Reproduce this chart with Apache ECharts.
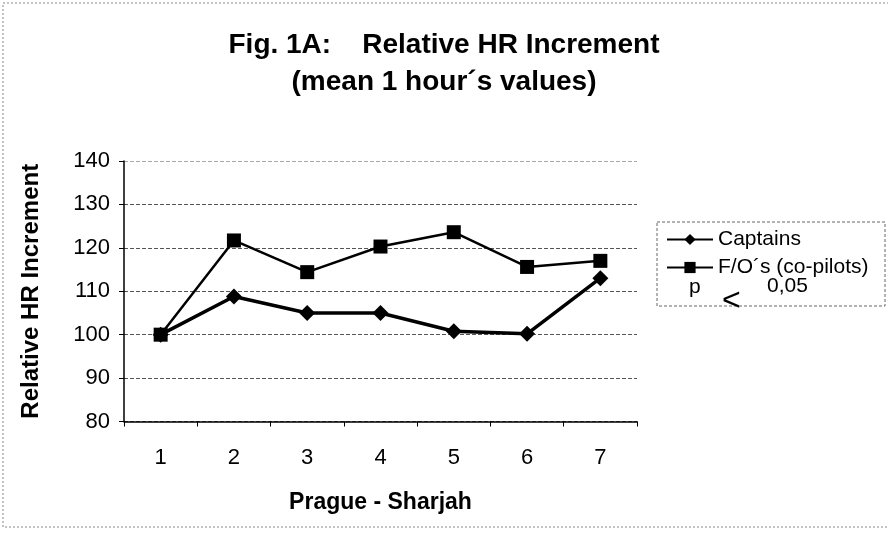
<!DOCTYPE html>
<html>
<head>
<meta charset="utf-8">
<script src="https://cdn.jsdelivr.net/npm/echarts@6/dist/echarts.min.js"></script>
<style>
html,body{margin:0;padding:0;background:#fff;}
#chart{width:888px;height:540px;}
</style>
</head>
<body>
<div id="chart"></div>
<script>
var categories = ['1', '2', '3', '4', '5', '6', '7'];
var captains = [100, 108.8, 105, 105, 100.8, 100.2, 113];
var foPilots = [100, 121.7, 114.4, 120.3, 123.6, 115.6, 117];
var seriesNames = ['Captains', 'F/O\u00b4s (co-pilots)'];
var yMin = 80, yMax = 140, yStep = 10;
var titleText = 'Fig. 1A:    Relative HR Increment\n(mean 1 hour\u00b4s values)';
var xTitle = 'Prague - Sharjah';
var yTitle = 'Relative HR Increment';
var noteParts = ['p', '<', '0,05'];

var FONT = '"Liberation Sans", Arial, sans-serif';
var chart = echarts.init(document.getElementById('chart'), null, {renderer: 'canvas'});
chart.setOption({
  backgroundColor: '#ffffff',
  animation: false,
  title: {
    text: titleText,
    left: 'center',
    top: 27,
    padding: [0, 0, 0, 14],
    textStyle: {fontFamily: FONT, fontSize: 28, fontWeight: 'bold', color: '#000', lineHeight: 37}
  },
  grid: {left: 124, right: 251, top: 161, bottom: 118.5, containLabel: false},
  xAxis: {
    type: 'category',
    data: categories,
    name: xTitle,
    nameLocation: 'middle',
    nameGap: 70,
    nameTextStyle: {fontFamily: FONT, fontSize: 23, fontWeight: 'bold', color: '#000'},
    axisLine: {lineStyle: {color: '#000', width: 1.5}},
    axisTick: {show: true, length: 5, lineStyle: {color: '#000'}},
    axisLabel: {fontFamily: FONT, fontSize: 22, color: '#000', margin: 25},
    splitLine: {show: false}
  },
  yAxis: {
    type: 'value',
    min: yMin, max: yMax, interval: yStep,
    name: yTitle,
    nameLocation: 'middle',
    nameGap: 81,
    nameRotate: 90,
    nameTextStyle: {fontFamily: FONT, fontSize: 24, fontWeight: 'bold', color: '#000'},
    axisLine: {show: true, lineStyle: {color: '#000', width: 1.5}},
    axisTick: {show: true, length: 5, lineStyle: {color: '#000'}},
    axisLabel: {fontFamily: FONT, fontSize: 22, color: '#000', margin: 14},
    splitLine: {show: true, lineStyle: {color: ['#555', '#555', '#555', '#555', '#555', '#555', '#aaa'], width: 1, type: [4, 2]}}
  },
  legend: {
    orient: 'vertical',
    left: 666,
    top: 229,
    itemWidth: 46,
    itemHeight: 14,
    itemGap: 7,
    padding: 0,
    data: seriesNames,
    textStyle: {fontFamily: FONT, fontSize: 21, color: '#000'}
  },
  series: [
    {
      name: seriesNames[0], type: 'line', data: captains,
      symbol: 'diamond', symbolSize: 16,
      itemStyle: {color: '#000'},
      lineStyle: {color: '#000', width: 3.5}
    },
    {
      name: seriesNames[1], type: 'line', data: foPilots,
      symbol: 'rect', symbolSize: 14,
      itemStyle: {color: '#000'},
      lineStyle: {color: '#000', width: 2.5}
    }
  ],
  graphic: [
    {type: 'rect', shape: {x: 3, y: 3, width: 900, height: 524}, silent: true,
     style: {fill: 'none', stroke: '#888', lineWidth: 1, lineDash: [2, 2]}},
    {type: 'rect', shape: {x: 657, y: 222, width: 228, height: 84}, silent: true,
     style: {fill: 'none', stroke: '#666', lineWidth: 1, lineDash: [3, 2]}},
    {type: 'text', left: 689, top: 277, silent: true,
     style: {text: noteParts[0], font: '21px ' + FONT, fill: '#000'}},
    {type: 'text', left: 722, top: 285, silent: true,
     style: {text: noteParts[1], font: '32px ' + FONT, fill: '#000'}},
    {type: 'text', left: 767, top: 276, silent: true,
     style: {text: noteParts[2], font: '21px ' + FONT, fill: '#000'}}
  ]
});
</script>
</body>
</html>
